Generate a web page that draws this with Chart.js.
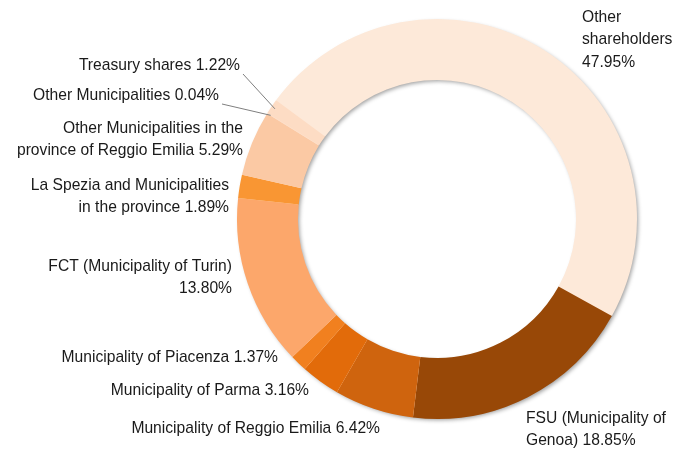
<!DOCTYPE html>
<html>
<head>
<meta charset="utf-8">
<script src="https://cdn.jsdelivr.net/npm/chart.js@4.4.1/dist/chart.umd.min.js"></script>
<style>
  html, body { margin: 0; padding: 0; background: #ffffff; }
  .pie-chart { position: relative; width: 686px; height: 450px; }
</style>
</head>
<body>
<div class="pie-chart"></div>
<script>
const shareholders = [
  "Other shareholders",
  "FSU (Municipality of Genoa)",
  "Municipality of Reggio Emilia",
  "Municipality of Parma",
  "Municipality of Piacenza",
  "FCT (Municipality of Turin)",
  "La Spezia and Municipalities in the province",
  "Other Municipalities in the province of Reggio Emilia",
  "Other Municipalities",
  "Treasury shares",
];
const percents = [47.95, 18.85, 6.42, 3.16, 1.37, 13.8, 1.89, 5.29, 0.04, 1.22];
// how each label is broken into lines, {v} = the percentage
const labelLines = [
  ["Other", "shareholders", "{v}"],
  ["FSU (Municipality of", "Genoa) {v}"],
  ["Municipality of Reggio Emilia {v}"],
  ["Municipality of Parma {v}"],
  ["Municipality of Piacenza {v}"],
  ["FCT (Municipality of Turin)", "{v}"],
  ["La Spezia and Municipalities", "in the province {v}"],
  ["Other Municipalities in the", "province of Reggio Emilia {v}"],
  ["Other Municipalities {v}"],
  ["Treasury shares {v}"],
];
const colors = [
  "#fde9d9", "#984807", "#cf640e", "#e26b0a", "#f1801f",
  "#fca76b", "#f99633", "#fbc9a4", "#fddcc4", "#fddcc4",
];

// where the labels sit: [x, y of first line, align, leader line?]
const labelPos = [
  [582, 17, "left", false],
  [526, 418, "left", false],
  [380, 428, "right", false],
  [309, 390, "right", false],
  [278, 357, "right", false],
  [232, 266, "right", false],
  [229, 185, "right", false],
  [243, 128, "right", false],
  [219, 95, "right", true],
  [240, 65, "right", true],
];

// soft drop shadow under the whole ring, drawn once so slice edges stay clean
const ringShadow = {
  id: "ringShadow",
  beforeDatasetsDraw(chart) {
    const a = chart.getDatasetMeta(0).data[0];
    if (!a) return;
    const ctx = chart.ctx;
    ctx.save();
    ctx.shadowColor = "rgba(0,0,0,0.4)";
    ctx.shadowBlur = 4;
    ctx.shadowOffsetX = 2;
    ctx.shadowOffsetY = 2;
    ctx.fillStyle = "#fde9d9";
    ctx.beginPath();
    ctx.arc(a.x, a.y, a.outerRadius - 1, 0, Math.PI * 2);
    ctx.arc(a.x, a.y, a.innerRadius + 1, 0, Math.PI * 2, true);
    ctx.fill();
    ctx.restore();
  },
};

const sliceLabels = {
  id: "sliceLabels",
  afterDraw(chart) {
    const ctx = chart.ctx;
    const arcs = chart.getDatasetMeta(0).data;
    const sx = 0.92;
    ctx.save();
    ctx.font = "17px 'Liberation Sans', Arial, sans-serif";
    ctx.fillStyle = "#1a1a1a";
    ctx.textBaseline = "middle";
    labelLines.forEach((lines, i) => {
      const [x, y, align, leader] = labelPos[i];
      ctx.textAlign = align;
      lines.forEach((t, j) => {
        ctx.save();
        ctx.translate(x, y + j * 22.5);
        ctx.scale(sx, 1);
        ctx.fillText(t.replace("{v}", percents[i].toFixed(2) + "%"), 0, 0);
        ctx.restore();
      });
      if (leader) {
        const a = arcs[i];
        const mid = (a.startAngle + a.endAngle) / 2;
        const r = a.outerRadius - 4;
        ctx.strokeStyle = "#7f7f7f";
        ctx.lineWidth = 1;
        ctx.beginPath();
        ctx.moveTo(x + 3, y + 9);
        ctx.lineTo(a.x + Math.cos(mid) * r, a.y + Math.sin(mid) * r);
        ctx.stroke();
      }
    });
    ctx.restore();
  },
};

const canvas = document.createElement("canvas");
document.querySelector(".pie-chart").appendChild(canvas);

new Chart(canvas, {
  type: "doughnut",
  data: {
    labels: shareholders,
    datasets: [
      {
        data: percents,
        backgroundColor: colors,
        borderWidth: 0,
      },
    ],
  },
  options: {
    responsive: true,
    maintainAspectRatio: false,
    animation: false,
    rotation: -53.6,
    cutout: "69.5%",
    layout: { padding: { left: 237, right: 49, top: 19, bottom: 31 } },
    plugins: {
      legend: { display: false },
      tooltip: { enabled: false },
    },
  },
  plugins: [ringShadow, sliceLabels],
});
</script>
</body>
</html>
